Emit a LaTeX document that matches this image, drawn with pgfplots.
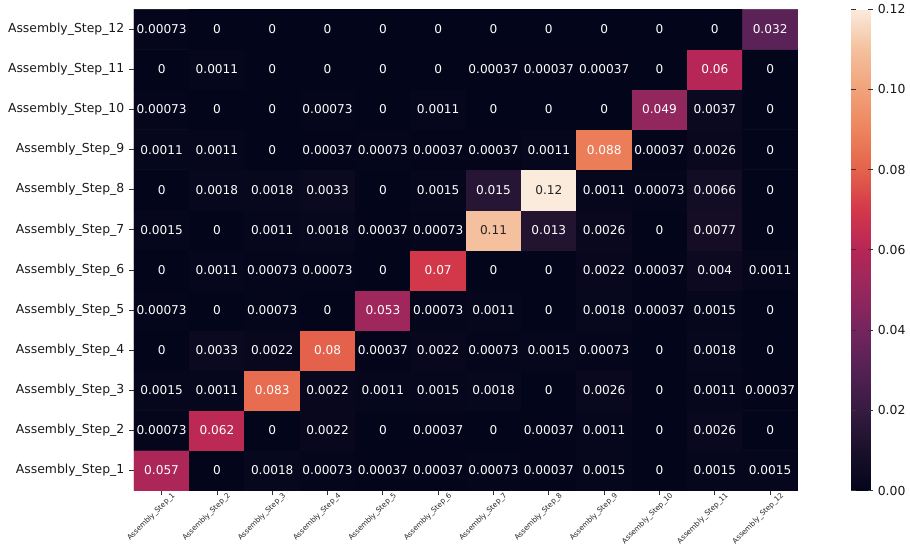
\documentclass[border=0pt]{standalone}
\usepackage{pgfplots}
\usepackage{pgfplotstable}
\pgfplotsset{compat=1.18}
\usepackage{fontspec}
\setmainfont{DejaVu Sans}
\definecolor{dk}{RGB}{38,38,38}
\pgfplotsset{colormap={rocket}{rgb255(0)=(3,5,26) rgb255(1)=(26,16,42) rgb255(2)=(53,27,64) rgb255(3)=(84,33,84) rgb255(4)=(116,37,93) rgb255(5)=(150,39,93) rgb255(6)=(182,38,86) rgb255(7)=(211,56,74) rgb255(8)=(228,98,75) rgb255(9)=(237,132,93) rgb255(10)=(241,162,122) rgb255(11)=(244,192,157) rgb255(12)=(250,235,221)}}
\pgfplotstableread{
x y c
1 1 0.057
2 1 0
3 1 0.0018
4 1 0.00073
5 1 0.00037
6 1 0.00037
7 1 0.00073
8 1 0.00037
9 1 0.0015
10 1 0
11 1 0.0015
12 1 0.0015
1 2 0.00073
2 2 0.062
3 2 0
4 2 0.0022
5 2 0
6 2 0.00037
7 2 0
8 2 0.00037
9 2 0.0011
10 2 0
11 2 0.0026
12 2 0
1 3 0.0015
2 3 0.0011
3 3 0.083
4 3 0.0022
5 3 0.0011
6 3 0.0015
7 3 0.0018
8 3 0
9 3 0.0026
10 3 0
11 3 0.0011
12 3 0.00037
1 4 0
2 4 0.0033
3 4 0.0022
4 4 0.08
5 4 0.00037
6 4 0.0022
7 4 0.00073
8 4 0.0015
9 4 0.00073
10 4 0
11 4 0.0018
12 4 0
1 5 0.00073
2 5 0
3 5 0.00073
4 5 0
5 5 0.053
6 5 0.00073
7 5 0.0011
8 5 0
9 5 0.0018
10 5 0.00037
11 5 0.0015
12 5 0
1 6 0
2 6 0.0011
3 6 0.00073
4 6 0.00073
5 6 0
6 6 0.07
7 6 0
8 6 0
9 6 0.0022
10 6 0.00037
11 6 0.004
12 6 0.0011
1 7 0.0015
2 7 0
3 7 0.0011
4 7 0.0018
5 7 0.00037
6 7 0.00073
7 7 0.11
8 7 0.013
9 7 0.0026
10 7 0
11 7 0.0077
12 7 0
1 8 0
2 8 0.0018
3 8 0.0018
4 8 0.0033
5 8 0
6 8 0.0015
7 8 0.015
8 8 0.12
9 8 0.0011
10 8 0.00073
11 8 0.0066
12 8 0
1 9 0.0011
2 9 0.0011
3 9 0
4 9 0.00037
5 9 0.00073
6 9 0.00037
7 9 0.00037
8 9 0.0011
9 9 0.088
10 9 0.00037
11 9 0.0026
12 9 0
1 10 0.00073
2 10 0
3 10 0
4 10 0.00073
5 10 0
6 10 0.0011
7 10 0
8 10 0
9 10 0
10 10 0.049
11 10 0.0037
12 10 0
1 11 0
2 11 0.0011
3 11 0
4 11 0
5 11 0
6 11 0
7 11 0.00037
8 11 0.00037
9 11 0.00037
10 11 0
11 11 0.06
12 11 0
1 12 0.00073
2 12 0
3 12 0
4 12 0
5 12 0
6 12 0
7 12 0
8 12 0
9 12 0
10 12 0
11 12 0
12 12 0.032
}\conftable
\begin{document}
\begin{tikzpicture}
\begin{axis}[name=main,
  scale only axis, width=481.7pt, height=349.2pt,
  xmin=0.5, xmax=12.5, ymin=0.5, ymax=12.5, enlargelimits=false,
  axis line style={draw=none},
  xtick={1,...,12}, ytick={1,...,12},
  xticklabels={Assembly\_Step\_1,Assembly\_Step\_2,Assembly\_Step\_3,Assembly\_Step\_4,Assembly\_Step\_5,Assembly\_Step\_6,Assembly\_Step\_7,Assembly\_Step\_8,Assembly\_Step\_9,Assembly\_Step\_10,Assembly\_Step\_11,Assembly\_Step\_12},
  yticklabels={Assembly\_Step\_1,Assembly\_Step\_2,Assembly\_Step\_3,Assembly\_Step\_4,Assembly\_Step\_5,Assembly\_Step\_6,Assembly\_Step\_7,Assembly\_Step\_8,Assembly\_Step\_9,Assembly\_Step\_10,Assembly\_Step\_11,Assembly\_Step\_12},
  tick pos=left, tick align=outside, major tick length=3.5pt,
  tick style={black!80, line width=0.6pt},
  xticklabel style={rotate=45, anchor=north east, font=\fontsize{5.3}{6}\selectfont, text=black!85, inner sep=1pt, xshift=8pt, yshift=-2pt},
  yticklabel style={font=\fontsize{9}{11}\selectfont, text=black!90},
  colormap name=rocket, point meta min=0, point meta max=0.12,
  colorbar,
  colorbar style={at={(parent axis.north east)}, anchor=north west, xshift=30.2pt,
    width=15.8pt, axis line style={draw=none},
    ytick={0,0.02,0.04,0.06,0.08,0.1,0.12},
    major tick length=3.5pt, tick style={black!80, line width=0.6pt},
    yticklabel style={font=\fontsize{9}{11}\selectfont, text=black!90,
      /pgf/number format/.cd, fixed, fixed zerofill, precision=2, assume math mode=true}},
]
\addplot[matrix plot*, point meta=explicit, mesh/cols=12] table[x=x, y=y, meta=c] {\conftable};
\addplot[only marks, mark=none,
  point meta=explicit symbolic,
  visualization depends on={\thisrow{c} \as \cv},
  nodes near coords={\ifdim\cv pt>0.1pt\color{dk}\else\color{white}\fi\pgfplotspointmeta},
  nodes near coords align={center},
  every node near coord/.append style={font=\fontsize{8.8}{10}\selectfont, inner sep=0pt}]
  table[x=x, y=y, meta=c] {\conftable};
\end{axis}
\path (main.south west) ++(-97.2pt,-46.1pt) rectangle ++(655.2pt,398.9pt);
\end{tikzpicture}
\end{document}
